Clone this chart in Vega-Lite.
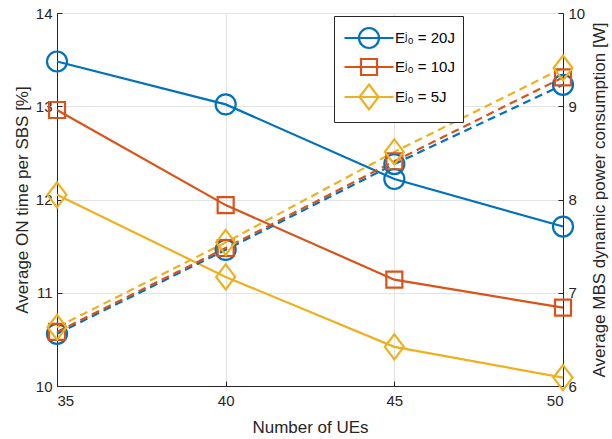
{
  "$schema": "https://vega.github.io/schema/vega-lite/v6.json",
  "width": 506,
  "height": 373,
  "autosize": "none",
  "padding": {"left": 57, "top": 13, "right": 49, "bottom": 53},
  "background": "white",
  "view": {"stroke": "#262626", "strokeWidth": 1},
  "config": {
    "font": "Liberation Sans",
    "axis": {
      "labelFont": "Liberation Sans",
      "labelFontSize": 15,
      "labelColor": "#262626",
      "titleFont": "Liberation Sans",
      "titleFontSize": 17,
      "titleFontWeight": "normal",
      "titleColor": "#262626",
      "domainColor": "#262626",
      "tickColor": "#262626",
      "tickSize": -5,
      "labelPadding": 10,
      "gridColor": "#e3e3e3",
      "gridWidth": 1
    }
  },
  "data": {
    "values": [
      {"n": 35, "series": "Eʲ₀ = 20J", "ontime": 13.48, "power": 6.56},
      {"n": 40, "series": "Eʲ₀ = 20J", "ontime": 13.02, "power": 7.46},
      {"n": 45, "series": "Eʲ₀ = 20J", "ontime": 12.22, "power": 8.38},
      {"n": 50, "series": "Eʲ₀ = 20J", "ontime": 11.71, "power": 9.23},
      {"n": 35, "series": "Eʲ₀ = 10J", "ontime": 12.96, "power": 6.58},
      {"n": 40, "series": "Eʲ₀ = 10J", "ontime": 11.94, "power": 7.48},
      {"n": 45, "series": "Eʲ₀ = 10J", "ontime": 11.14, "power": 8.41},
      {"n": 50, "series": "Eʲ₀ = 10J", "ontime": 10.84, "power": 9.31},
      {"n": 35, "series": "Eʲ₀ = 5J", "ontime": 12.05, "power": 6.63},
      {"n": 40, "series": "Eʲ₀ = 5J", "ontime": 11.17, "power": 7.54},
      {"n": 45, "series": "Eʲ₀ = 5J", "ontime": 10.42, "power": 8.51},
      {"n": 50, "series": "Eʲ₀ = 5J", "ontime": 10.09, "power": 9.41}
    ]
  },
  "encoding": {
    "x": {
      "field": "n", "type": "quantitative",
      "scale": {"domain": [35, 50], "nice": false, "zero": false},
      "axis": {"title": "Number of UEs", "values": [35, 40, 45, 50], "grid": true, "labelPadding": 12, "titlePadding": 11}
    }
  },
  "layer": [
    {
      "encoding": {
        "y": {
          "field": "ontime", "type": "quantitative",
          "scale": {"domain": [10, 14], "nice": false, "zero": false},
          "axis": {"title": "Average ON time per SBS [%]", "values": [10, 11, 12, 13, 14], "grid": true, "orient": "left", "titlePadding": 4}
        }
      },
      "layer": [
        {
          "mark": {"type": "line", "strokeWidth": 2.2},
          "encoding": {
            "color": {"field": "series", "type": "nominal", "scale": {"domain": ["Eʲ₀ = 20J", "Eʲ₀ = 10J", "Eʲ₀ = 5J"], "range": ["#0072BD", "#D95319", "#EDB120"]}, "legend": null}
          }
        },
        {
          "mark": {"type": "point", "filled": false, "strokeWidth": 2.2, "opacity": 1, "size": 625},
          "encoding": {
            "color": {"field": "series", "type": "nominal", "scale": {"domain": ["Eʲ₀ = 20J", "Eʲ₀ = 10J", "Eʲ₀ = 5J"], "range": ["#0072BD", "#D95319", "#EDB120"]}, "legend": null},
            "shape": {"field": "series", "type": "nominal", "scale": {"domain": ["Eʲ₀ = 20J", "Eʲ₀ = 10J", "Eʲ₀ = 5J"], "range": [
              "M0.8,0A0.8,0.8,0,1,1,-0.8,0A0.8,0.8,0,1,1,0.8,0Z",
              "M-0.64,-0.64L0.64,-0.64L0.64,0.64L-0.64,0.64Z",
              "M0,-1L0.76,0L0,1L-0.76,0Z"
            ]}, "legend": null}
          }
        },
        {
          "mark": {"type": "point", "filled": false, "strokeWidth": 2.2, "opacity": 0, "size": 625},
          "encoding": {
            "stroke": {
              "field": "series", "type": "nominal",
              "scale": {"domain": ["Eʲ₀ = 20J", "Eʲ₀ = 10J", "Eʲ₀ = 5J"], "range": ["#0072BD", "#D95319", "#EDB120"]},
              "legend": {
                "orient": "none", "legendX": 277, "legendY": 3, "title": null,
                "symbolSize": 625, "symbolStrokeWidth": 2.2,
                "symbolOffset": 13, "labelOffset": 12,
                "labelFont": "Liberation Sans", "labelFontSize": 15, "labelColor": "#000000",
                "strokeColor": "#262626", "fillColor": "white", "padding": 8,
                "rowPadding": 0,
                "encode": {"symbols": {"update": {"opacity": {"value": 1}, "strokeOpacity": {"value": 1}, "fill": {"value": "transparent"}}}}
              }
            },
            "shape": {
              "field": "series", "type": "nominal",
              "scale": {"domain": ["Eʲ₀ = 20J", "Eʲ₀ = 10J", "Eʲ₀ = 5J"], "range": [
                "M-1.96,0L1.96,0M0.8,0A0.8,0.8,0,1,1,-0.8,0A0.8,0.8,0,1,1,0.8,0",
                "M-1.96,0L1.96,0M-0.64,-0.64L0.64,-0.64L0.64,0.64L-0.64,0.64Z",
                "M-1.96,0L1.96,0M0,-1L0.76,0L0,1L-0.76,0Z"
              ]},
              "legend": {
                "orient": "none", "legendX": 277, "legendY": 3, "title": null,
                "symbolSize": 625, "symbolStrokeWidth": 2.2,
                "symbolOffset": 13, "labelOffset": 12,
                "labelFont": "Liberation Sans", "labelFontSize": 15, "labelColor": "#000000",
                "strokeColor": "#262626", "fillColor": "white", "padding": 8,
                "rowPadding": 0,
                "encode": {"symbols": {"update": {"opacity": {"value": 1}, "strokeOpacity": {"value": 1}, "fill": {"value": "transparent"}}}}
              }
            }
          }
        }
      ],
      "resolve": {"scale": {"shape": "independent", "stroke": "independent"}}
    },
    {
      "encoding": {
        "y": {
          "field": "power", "type": "quantitative",
          "scale": {"domain": [6, 10], "nice": false, "zero": false},
          "axis": {"title": "Average MBS dynamic power consumption [W]", "values": [6, 7, 8, 9, 10], "grid": false, "orient": "right", "titleAngle": 270, "titlePadding": 24}
        }
      },
      "layer": [
        {
          "mark": {"type": "line", "strokeWidth": 2.2, "strokeDash": [8, 5]},
          "encoding": {
            "color": {"field": "series", "type": "nominal", "scale": {"domain": ["Eʲ₀ = 20J", "Eʲ₀ = 10J", "Eʲ₀ = 5J"], "range": ["#0072BD", "#D95319", "#EDB120"]}, "legend": null}
          }
        },
        {
          "mark": {"type": "point", "filled": false, "strokeWidth": 2.2, "opacity": 1, "size": 625},
          "encoding": {
            "color": {"field": "series", "type": "nominal", "scale": {"domain": ["Eʲ₀ = 20J", "Eʲ₀ = 10J", "Eʲ₀ = 5J"], "range": ["#0072BD", "#D95319", "#EDB120"]}, "legend": null},
            "shape": {"field": "series", "type": "nominal", "scale": {"domain": ["Eʲ₀ = 20J", "Eʲ₀ = 10J", "Eʲ₀ = 5J"], "range": [
              "M0.8,0A0.8,0.8,0,1,1,-0.8,0A0.8,0.8,0,1,1,0.8,0Z",
              "M-0.64,-0.64L0.64,-0.64L0.64,0.64L-0.64,0.64Z",
              "M0,-1L0.76,0L0,1L-0.76,0Z"
            ]}, "legend": null}
          }
        }
      ]
    }
  ],
  "resolve": {"scale": {"y": "independent", "shape": "independent", "stroke": "independent"}}
}
